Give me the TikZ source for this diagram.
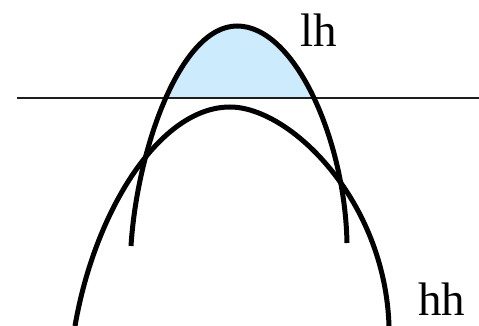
\documentclass[tikz,border=0pt]{standalone}
\usepackage{fontspec}
\setmainfont{Liberation Serif}
\definecolor{fillblue}{RGB}{204,235,252}
\definecolor{linegray}{RGB}{30,30,30}
\begin{document}
\begin{tikzpicture}[x=1pt,y=-1pt,
  band/.style={line width=5pt,black},
  lbl/.style={font=\fontsize{47}{47}\selectfont,anchor=base west,inner sep=0pt}]
\useasboundingbox (0,0) rectangle (479,326);
\def\lhpath{(131,246) .. controls (137,150) and (180,26) .. (237,26) .. controls (295,26) and (345,140) .. (347,243)}
\begin{scope}
  \clip (0,0) rectangle (479,98.5);
  \fill[fillblue] \lhpath -- cycle;
\end{scope}
\coordinate (la) at (17,98.5);
\coordinate (lb) at (479,98.5);
\draw[linegray,line width=2pt] (la) -- (lb);
\draw[band] \lhpath;
\draw[band] (75,326) .. controls (95,210) and (160,107) .. (230,107) .. controls (290,107) and (385,200) .. (389,326);
\node[lbl] (lh) at (300,47) {lh};
\node[lbl] (hh) at (418,315) {hh};
\end{tikzpicture}
\end{document}
